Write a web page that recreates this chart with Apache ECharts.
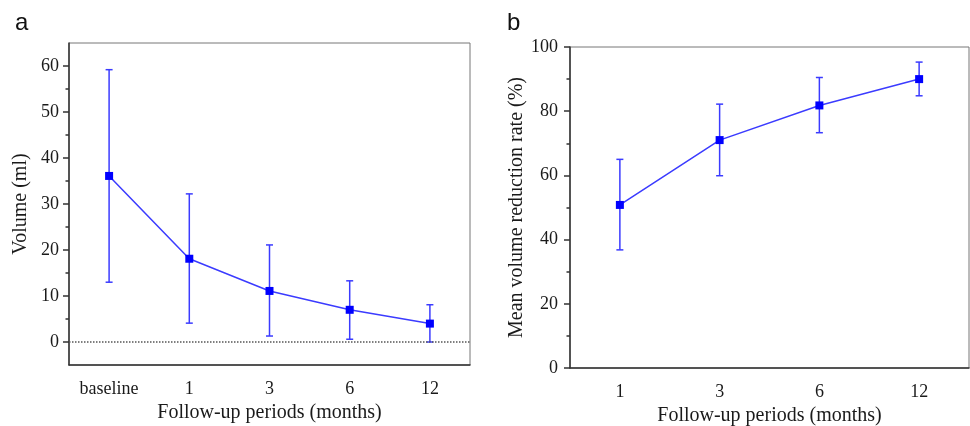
<!DOCTYPE html>
<html lang="en">
<head>
    <meta charset="UTF-8">
    <title>Volume follow-up</title>
    <script src="https://cdn.jsdelivr.net/npm/echarts@6/dist/echarts.min.js"></script>
    <style>
        html, body {
            margin: 0;
            padding: 0;
            background: #fff;
        }
        #chart {
            width: 970px;
            height: 426px;
        }
    </style>
</head>
<body>
<div id="chart"></div>
<script>
    // panel a: volume
    var volCats = ['baseline', '1', '3', '6', '12'];
    var volMean = [36.1, 18.1, 11.1, 7.0, 4.0];
    var volUpper = [59.2, 32.2, 21.1, 13.3, 8.1];
    var volLower = [13.0, 4.1, 1.3, 0.6, 0.0];
    var volTicks = [0, 10, 20, 30, 40, 50, 60];
    var volMinorTicks = [5, 15, 25, 35, 45, 55];

    // panel b: reduction rate
    var rateCats = ['1', '3', '6', '12'];
    var rateMean = [50.8, 71.0, 81.8, 90.0];
    var rateUpper = [65.0, 82.2, 90.5, 95.3];
    var rateLower = [36.8, 59.9, 73.3, 84.8];

    var serif = 'Liberation Serif';
    var axisColor = '#333';
    var textColor = '#1a1a1a';
    var blue = '#0000ff';
    var lineBlue = '#3b3bff';

    function errData(lower, upper) {
        return lower.map(function (v, i) {
            return [i, v, upper[i]];
        });
    }

    function renderErr(params, api) {
        var lo = api.coord([api.value(0), api.value(1)]);
        var hi = api.coord([api.value(0), api.value(2)]);
        var w = 3.5;
        var style = {stroke: lineBlue, lineWidth: 1.5};
        return {
            type: 'group',
            children: [
                {type: 'line', shape: {x1: lo[0], y1: lo[1], x2: hi[0], y2: hi[1]}, style: style},
                {type: 'line', shape: {x1: lo[0] - w, y1: lo[1], x2: lo[0] + w, y2: lo[1]}, style: style},
                {type: 'line', shape: {x1: hi[0] - w, y1: hi[1], x2: hi[0] + w, y2: hi[1]}, style: style}
            ]
        };
    }

    function xAxisOf(grid, cats) {
        return {
            type: 'category',
            gridIndex: grid,
            data: cats,
            boundaryGap: true,
            name: 'Follow-up periods (months)',
            nameLocation: 'middle',
            nameGap: 37,
            nameTextStyle: {fontFamily: serif, fontSize: 20, color: textColor},
            axisLine: {onZero: false, lineStyle: {color: axisColor, width: 1.5}},
            axisTick: {alignWithLabel: true, length: 5, lineStyle: {color: axisColor, width: 1.5}},
            axisLabel: {fontFamily: serif, fontSize: 18, color: textColor, margin: 15},
            splitLine: {show: false}
        };
    }

    var chart = echarts.init(document.getElementById('chart'));
    chart.setOption({
        animation: false,
        title: [
            {text: 'a', left: 10, top: 6, textStyle: {fontFamily: 'Liberation Sans', fontSize: 24, fontWeight: 'normal', color: '#111'}},
            {text: 'b', left: 502, top: 6, textStyle: {fontFamily: 'Liberation Sans', fontSize: 24, fontWeight: 'normal', color: '#111'}}
        ],
        grid: [
            {left: 69, top: 43, width: 401, bottom: 61, outerBoundsMode: 'none', show: true, borderColor: '#777', borderWidth: 1},
            {left: 570, top: 47, width: 399, bottom: 58, outerBoundsMode: 'none', show: true, borderColor: '#777', borderWidth: 1}
        ],
        xAxis: [xAxisOf(0, volCats), xAxisOf(1, rateCats)],
        yAxis: [
            {
                type: 'value',
                gridIndex: 0,
                min: -5,
                max: 65,
                name: 'Volume (ml)',
                nameLocation: 'middle',
                nameGap: 38,
                nameTextStyle: {fontFamily: serif, fontSize: 20, color: textColor},
                axisLine: {show: true, onZero: false, lineStyle: {color: axisColor, width: 1.5}},
                axisTick: {show: true, length: 6, customValues: volTicks, lineStyle: {color: axisColor, width: 1.5}},
                axisLabel: {fontFamily: serif, fontSize: 18, color: textColor, margin: 10, customValues: volTicks},
                splitLine: {show: false}
            },
            {
                // minor ticks only
                type: 'value',
                gridIndex: 0,
                min: -5,
                max: 65,
                position: 'left',
                axisLine: {show: false},
                axisTick: {show: true, length: 3.5, customValues: volMinorTicks, lineStyle: {color: axisColor, width: 1.5}},
                axisLabel: {show: false},
                splitLine: {show: false}
            },
            {
                type: 'value',
                gridIndex: 1,
                min: 0,
                max: 100,
                interval: 20,
                name: 'Mean volume reduction rate (%)',
                nameLocation: 'middle',
                nameGap: 42,
                nameTextStyle: {fontFamily: serif, fontSize: 20, color: textColor},
                axisLine: {show: true, onZero: false, lineStyle: {color: axisColor, width: 1.5}},
                axisTick: {show: true, length: 6, lineStyle: {color: axisColor, width: 1.5}},
                minorTick: {show: true, splitNumber: 2, length: 3.5, lineStyle: {color: axisColor, width: 1.5}},
                axisLabel: {fontFamily: serif, fontSize: 18, color: textColor, margin: 12},
                splitLine: {show: false}
            }
        ],
        series: [
            {
                type: 'custom',
                xAxisIndex: 0,
                yAxisIndex: 0,
                renderItem: renderErr,
                data: errData(volLower, volUpper),
                z: 2
            },
            {
                type: 'line',
                xAxisIndex: 0,
                yAxisIndex: 0,
                data: volMean,
                symbol: 'rect',
                symbolSize: 8,
                itemStyle: {color: blue},
                lineStyle: {color: lineBlue, width: 1.5},
                z: 3,
                markLine: {
                    silent: true,
                    symbol: 'none',
                    label: {show: false},
                    lineStyle: {color: '#555', type: 'dotted', width: 1.5},
                    data: [{yAxis: 0}]
                }
            },
            {
                type: 'custom',
                xAxisIndex: 1,
                yAxisIndex: 2,
                renderItem: renderErr,
                data: errData(rateLower, rateUpper),
                z: 2
            },
            {
                type: 'line',
                xAxisIndex: 1,
                yAxisIndex: 2,
                data: rateMean,
                symbol: 'rect',
                symbolSize: 8,
                itemStyle: {color: blue},
                lineStyle: {color: lineBlue, width: 1.5},
                z: 3
            }
        ]
    });
</script>
</body>
</html>
